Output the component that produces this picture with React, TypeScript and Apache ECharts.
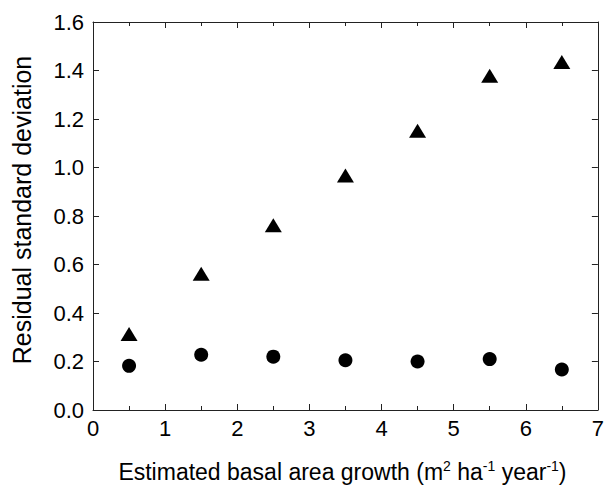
import React, { useEffect, useRef } from "react";
import * as echarts from "echarts";

const xCategories = [0.5, 1.5, 2.5, 3.5, 4.5, 5.5, 6.5];
const triangleValues = [0.313, 0.562, 0.762, 0.967, 1.152, 1.378, 1.435];
const circleValues = [0.182, 0.228, 0.22, 0.205, 0.2, 0.21, 0.167];
const xTitle = "Estimated basal area growth (m{sup|2} ha{sup|-1} year{sup|-1})";
const yTitle = "Residual standard deviation";

export default function App() {
  const ref = useRef<HTMLDivElement>(null);
  useEffect(() => {
    if (!ref.current) return;
    const chart = echarts.init(ref.current, null, { renderer: "svg" });
    const font = "'Liberation Sans', Arial, sans-serif";
    const lineStyle = { color: "#222", width: 1 };
    chart.setOption({
      animation: false,
      backgroundColor: "#fff",
      grid: { left: 93, right: 3, top: 22, bottom: 72 },
      xAxis: [
        {
          type: "value",
          min: 0,
          max: 7,
          interval: 1,
          position: "bottom",
          axisLine: { show: true, onZero: false, lineStyle },
          axisTick: { show: true, inside: true, length: 6, lineStyle },
          minorTick: { show: true, splitNumber: 2, length: 4, lineStyle },
          splitLine: { show: false },
          axisLabel: { color: "#000", fontSize: 22, fontFamily: font, margin: 7 },
          name: xTitle,
          nameLocation: "middle",
          nameGap: 49,
          nameTextStyle: {
            color: "#000",
            fontSize: 23,
            fontFamily: font,
            padding: [0, 6, 0, 0],
            rich: {
              sup: { fontSize: 14, fontFamily: font, color: "#000", verticalAlign: "top", padding: [0, 0, 11, 0] },
            },
          },
        },
        {
          type: "value",
          min: 0,
          max: 7,
          interval: 1,
          position: "top",
          axisLine: { show: true, onZero: false, lineStyle },
          axisTick: { show: true, inside: true, length: 6, lineStyle },
          minorTick: { show: true, splitNumber: 2, length: 4, lineStyle },
          splitLine: { show: false },
          axisLabel: { show: false },
        },
      ],
      yAxis: [
        {
          type: "value",
          min: 0,
          max: 1.6,
          interval: 0.2,
          position: "left",
          axisLine: { show: true, onZero: false, lineStyle },
          axisTick: { show: true, inside: true, length: 6, lineStyle },
          splitLine: { show: false },
          axisLabel: {
            color: "#000",
            fontSize: 22,
            fontFamily: font,
            margin: 9,
            formatter: (v: number) => v.toFixed(1),
          },
          name: yTitle,
          nameLocation: "middle",
          nameGap: 59,
          nameTextStyle: { color: "#000", fontSize: 25, fontFamily: font, padding: [0, 0, 0, 12] },
        },
        {
          type: "value",
          min: 0,
          max: 1.6,
          interval: 0.2,
          position: "right",
          axisLine: { show: true, onZero: false, lineStyle },
          axisTick: { show: true, inside: true, length: 6, lineStyle },
          splitLine: { show: false },
          axisLabel: { show: false },
        },
      ],
      series: [
        {
          type: "scatter",
          symbol: "triangle",
          symbolSize: [17, 14],
          itemStyle: { color: "#000", opacity: 1 },
          data: xCategories.map((x, i) => [x, triangleValues[i]]),
        },
        {
          type: "scatter",
          symbol: "circle",
          symbolSize: 14,
          itemStyle: { color: "#000", opacity: 1 },
          data: xCategories.map((x, i) => [x, circleValues[i]]),
        },
      ],
    });
    return () => chart.dispose();
  }, []);
  return (
    <div
      ref={ref}
      style={{ position: "fixed", left: 0, top: 0, width: 607, height: 488 }}
    />
  );
}
